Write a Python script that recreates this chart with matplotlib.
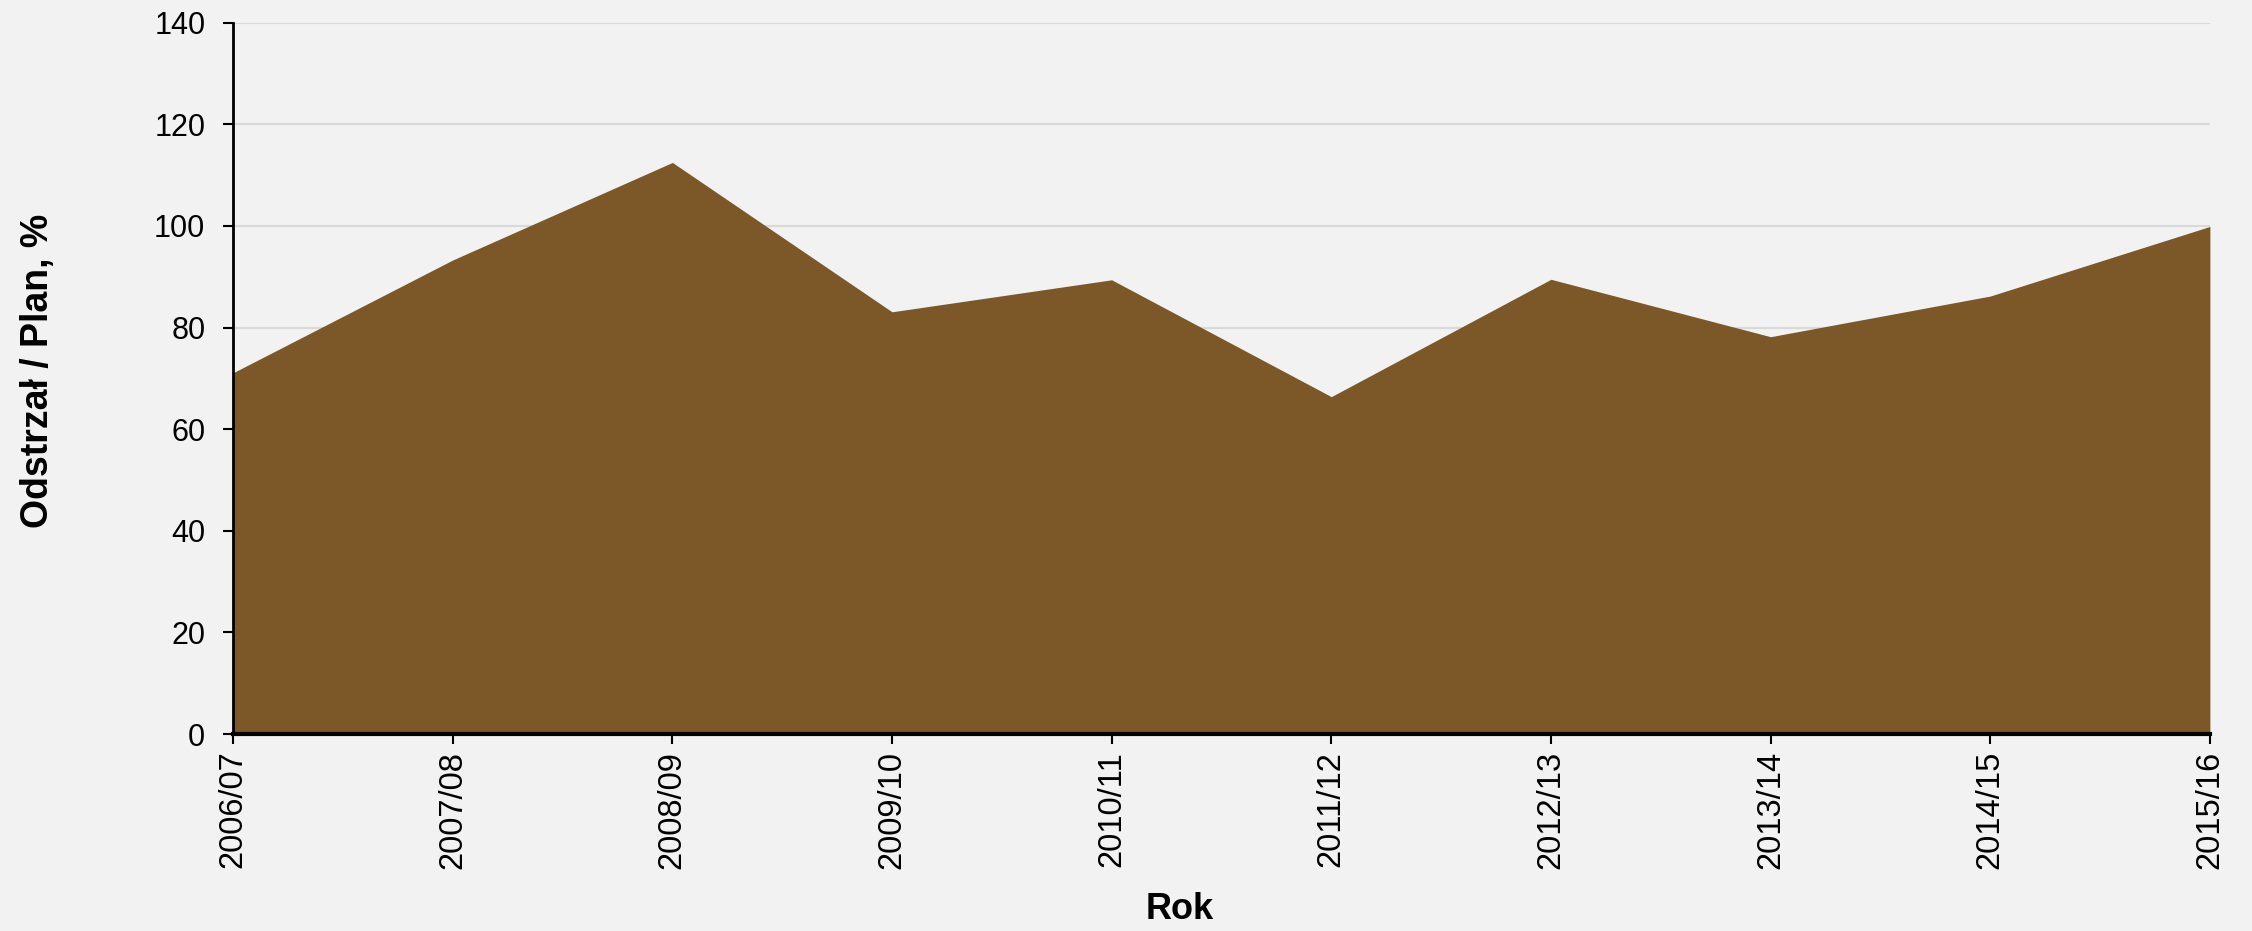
import matplotlib
matplotlib.use('Agg')
import matplotlib.pyplot as plt

# --- dane ---
years = ['2006/07', '2007/08', '2008/09', '2009/10', '2010/11',
         '2011/12', '2012/13', '2013/14', '2014/15', '2015/16']
ratio = [71.1, 93.3, 112.5, 83.1, 89.4, 66.4, 89.5, 78.2, 86.2, 99.9]
y_ticks = [0, 20, 40, 60, 80, 100, 120, 140]

# --- styl ---
plt.rcParams['font.family'] = ['Liberation Sans', 'DejaVu Sans']
bg = '#f2f2f2'
fill_color = '#7c5727'

fig = plt.figure(figsize=(22.52, 9.31), dpi=100, facecolor=bg)
ax = fig.add_axes([0.1035, 0.2116, 0.9813 - 0.1035, 0.9756 - 0.2116])
ax.set_facecolor(bg)

x = list(range(len(years)))
ax.fill_between(x, 0, ratio, color=fill_color, lw=0, zorder=2)

ax.set_xlim(0, len(years) - 1)
ax.set_ylim(0, 140)
ax.set_xticks(x)
ax.set_xticklabels(years, rotation=90)
ax.set_yticks(y_ticks)

ax.grid(axis='y', color='#d9d9d9', lw=1.5, zorder=0)
ax.set_axisbelow(True)

for s in ['top', 'right']:
    ax.spines[s].set_visible(False)
ax.spines['left'].set_linewidth(2)
ax.spines['bottom'].set_linewidth(3)
ax.spines['left'].set_zorder(3)
ax.spines['bottom'].set_zorder(3)

ax.tick_params(axis='y', labelsize=22, length=7, width=1.5, pad=13)
ax.tick_params(axis='x', labelsize=23.5, length=7, width=1.5, pad=5)

ax.set_xlabel('Rok', fontsize=26, fontweight='bold')
ax.set_ylabel('Odstrzał / Plan, %', fontsize=27, fontweight='bold')
ax.xaxis.set_label_coords(0.479, -0.2225)
ax.yaxis.set_label_coords(-0.0895, 0.51)

fig.savefig('out.png', dpi=100, facecolor=bg)
